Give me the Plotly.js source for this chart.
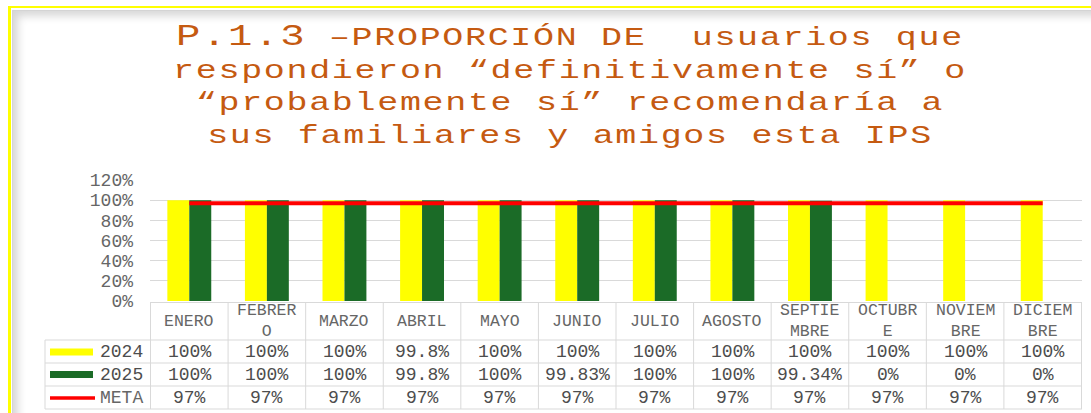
<!DOCTYPE html>
<html>
<head>
<meta charset="utf-8">
<script src="https://cdn.plot.ly/plotly-3.0.1.min.js"></script>
<style>
  html, body { margin:0; padding:0; background:#ffffff; width:1091px; height:413px; overflow:hidden; }
  #frame { position:absolute; left:8px; top:6px; width:1100px; height:420px;
           border-left:3px solid #FFFF00; border-top:2px solid #FFFF00; }
  #inner { position:absolute; left:12px; top:10px; width:1100px; height:420px;
           border-left:1px solid #d4d4d4; border-top:1px solid #d4d4d4;
           box-shadow: inset 7px 7px 8px -2px rgba(0,0,0,0.16); }
  #chart { position:absolute; left:0; top:0; width:1091px; height:413px; }
  .g-gtitle { transform: scaleX(1.4); transform-origin: 570px 0px; }
  .gtitle { letter-spacing: 1.2px; }
</style>
</head>
<body>
<div id="frame"></div>
<div id="inner"></div>
<div id="chart"></div>
<script>
// ---------------- data ----------------
const months = ['ENERO','FEBRERO','MARZO','ABRIL','MAYO','JUNIO','JULIO','AGOSTO','SEPTIEMBRE','OCTUBRE','NOVIEMBRE','DICIEMBRE'];
const monthHeaderLabels = ['ENERO','FEBRER<br>O','MARZO','ABRIL','MAYO','JUNIO','JULIO','AGOSTO','SEPTIE<br>MBRE','OCTUBR<br>E','NOVIEM<br>BRE','DICIEM<br>BRE'];
const values2024 = [100, 100, 100, 99.8, 100, 100, 100, 100, 100, 100, 100, 100];
const values2025 = [100, 100, 100, 99.8, 100, 99.83, 100, 100, 99.34, 0, 0, 0];
const valuesMeta = [97, 97, 97, 97, 97, 97, 97, 97, 97, 97, 97, 97];
const seriesNames = ['2024', '2025', 'META'];
const yTickVals = [0, 20, 40, 60, 80, 100, 120];
const yTickText = ['0%', '20%', '40%', '60%', '80%', '100%', '120%'];
const titleText = '<span style="font-size:29px">P.1.3</span> \u2013PROPORCI\u00d3N DE\u00a0 usuarios que<br>' +
                  'respondieron \u201cdefinitivamente s\u00ed\u201d o<br>' +
                  '\u201cprobablemente s\u00ed\u201d recomendar\u00eda a<br>' +
                  'sus familiares y amigos esta IPS';

// ---------------- styles / geometry ----------------
const W = 1091, H = 413;
const L = 150, R = 1082, T = 180, B = 301;
const COL_2024 = '#FFFF00', COL_2025 = '#1B6B27', COL_META = '#FF0000';
const GRID = '#D9D9D9';
const MONO = 'Liberation Mono, Courier New, monospace';
const py = y => (B - y) / (B - T);      // pixel y -> paper y
const px = x => (x - L) / (R - L);      // pixel x -> paper x

const traces = [
  { type:'bar', name:seriesNames[0], x:months, y:values2024, marker:{color:COL_2024}, hoverinfo:'skip' },
  { type:'bar', name:seriesNames[1], x:months, y:values2025, marker:{color:COL_2025}, hoverinfo:'skip' },
  { type:'scatter', mode:'lines', name:seriesNames[2], x:months, y:valuesMeta,
    line:{color:COL_META, width:4}, hoverinfo:'skip' }
];

// table geometry (pixels)
const headTop = 302.5, headBot = 340, rowBots = [363, 386, 409];
const rowCenters = [351.5, 374.5, 397.5];
const legLeft = 45;

const shapes = [];
shapes.push({type:'line', xref:'paper', yref:'paper', x0:0, x1:1, y0:py(headTop), y1:py(headTop), line:{color:GRID, width:1}});
[headBot].concat(rowBots).forEach(y => {
  shapes.push({type:'line', xref:'paper', yref:'paper', x0:px(legLeft), x1:1, y0:py(y), y1:py(y), line:{color:GRID, width:1}});
});
for (let k = 0; k <= months.length; k++) {
  shapes.push({type:'line', xref:'x', yref:'paper', x0:k - 0.5, x1:k - 0.5, y0:py(headTop), y1:py(rowBots[2]), line:{color:GRID, width:1}});
}
shapes.push({type:'line', xref:'paper', yref:'paper', x0:px(legLeft), x1:px(legLeft), y0:py(headBot), y1:py(rowBots[2]), line:{color:GRID, width:1}});
shapes.push({type:'rect', xref:'paper', yref:'paper', x0:px(50), x1:px(93), y0:py(348.5), y1:py(355.5), fillcolor:COL_2024, line:{width:0}});
shapes.push({type:'rect', xref:'paper', yref:'paper', x0:px(50), x1:px(93), y0:py(371), y1:py(378), fillcolor:COL_2025, line:{width:0}});
shapes.push({type:'line', xref:'paper', yref:'paper', x0:px(50), x1:px(95), y0:py(398), y1:py(398), line:{color:COL_META, width:3.5}});

const annotations = [];
months.forEach((m, i) => {
  annotations.push({xref:'x', yref:'paper', x:m, y:py(321), text:monthHeaderLabels[i], showarrow:false,
    xanchor:'center', yanchor:'middle', font:{family:MONO, size:16.5, color:'#666666'}});
});
seriesNames.forEach((n, r) => {
  annotations.push({xref:'paper', yref:'paper', x:px(145), y:py(rowCenters[r]), text:n, showarrow:false,
    xanchor:'right', yanchor:'middle', font:{family:MONO, size:18, color: r === 2 ? '#666666' : '#4d4d4d'}});
});
[values2024, values2025, valuesMeta].forEach((arr, r) => {
  arr.forEach((v, i) => {
    annotations.push({xref:'x', yref:'paper', x:months[i], y:py(rowCenters[r]), text:String(v) + '%', showarrow:false,
      xanchor:'center', yanchor:'middle', font:{family:MONO, size:18, color:'#4d4d4d'}});
  });
});

const layout = {
  width:W, height:H,
  margin:{l:L, r:W - R, t:T, b:H - B, pad:0},
  paper_bgcolor:'rgba(0,0,0,0)', plot_bgcolor:'rgba(0,0,0,0)',
  showlegend:false,
  barmode:'group', bargap:0.434, bargroupgap:0,
  title:{text:titleText, x:570/W, xref:'container', xanchor:'center', y:0.89, yref:'container', yanchor:'top',
         font:{family:MONO, size:25, color:'#C55A11'}},
  xaxis:{type:'category', showticklabels:false, showgrid:false, zeroline:false, showline:false, ticks:''},
  yaxis:{range:[0,120], tickvals:yTickVals, ticktext:yTickText, showgrid:true, gridcolor:GRID, gridwidth:1,
         zeroline:false, showline:false, ticks:'', ticklabelstandoff:16,
         tickfont:{family:MONO, size:18, color:'#666666'}},
  shapes:shapes,
  annotations:annotations
};

Plotly.newPlot('chart', traces, layout, {staticPlot:true, displayModeBar:false});
</script>
</body>
</html>
